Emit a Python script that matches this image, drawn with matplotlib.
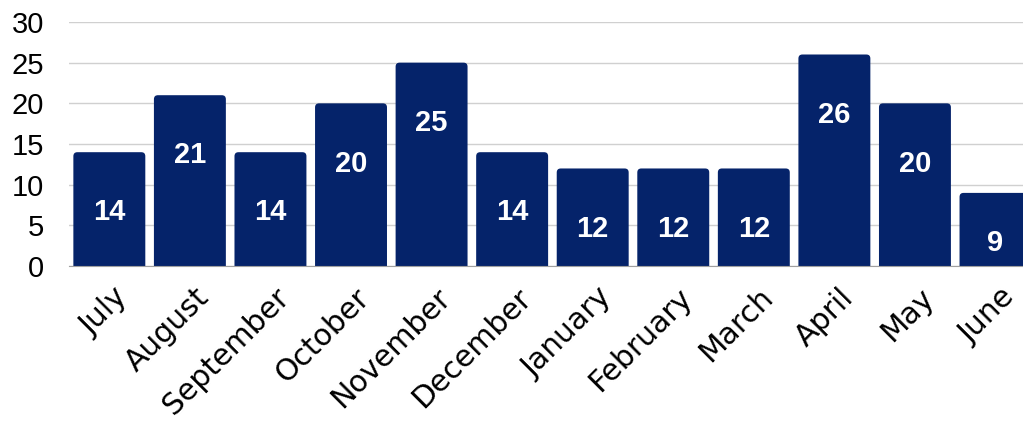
import numpy as np
import matplotlib
matplotlib.use("Agg")
import matplotlib.pyplot as plt
import matplotlib.transforms as mtransforms
from matplotlib.patches import FancyBboxPatch

# ========= DATA =========
MONTHS = ["July", "August", "September", "October", "November", "December",
          "January", "February", "March", "April", "May", "June"]
COUNTS = [14, 21, 14, 20, 25, 14, 12, 12, 12, 26, 20, 9]
Y_TICKS = [0, 5, 10, 15, 20, 25, 30]

BAR_COLOR = "#05236a"
GRID_COLOR = "#d0d0d0"
NUM_FONT = "Liberation Sans"
TXT_FONT = "DejaVu Sans"
# ========================

AX_L, AX_B, AX_W, AX_H = 0.0675, 0.381, 0.945, 0.568

fig = plt.figure(figsize=(10.23, 4.30), dpi=100)
ax = fig.add_axes([AX_L, AX_B, AX_W, AX_H])

x = np.arange(len(MONTHS))
bars = ax.bar(x, COUNTS, width=0.893, color=BAR_COLOR, zorder=3)

ax.set_xlim(-0.5, len(MONTHS) - 0.5)
ax.set_ylim(0, 30)

# rounded tops: swap each bar for a rounded patch
px_x = (ax.get_xlim()[1] - ax.get_xlim()[0]) / (fig.get_figwidth() * fig.dpi * AX_W)
px_y = 30 / (fig.get_figheight() * fig.dpi * AX_H)
for b in bars:
    b.set_visible(False)
    p = FancyBboxPatch((b.get_x(), -1), b.get_width(), b.get_height() + 1,
                       boxstyle=f"round,pad=0,rounding_size={4 * px_x}",
                       mutation_aspect=px_y / px_x,
                       fc=BAR_COLOR, ec="none", zorder=3, clip_on=True)
    ax.add_patch(p)

# value labels inside bars
for xi, v in zip(x, COUNTS):
    ax.text(xi, max(v - 7.4, 2.9), str(v), ha="center", va="center",
            color="white", fontsize=21, fontweight="bold", family=NUM_FONT, zorder=4)

ax.set_yticks(Y_TICKS)
ax.set_yticklabels([str(t) for t in Y_TICKS], fontsize=21, family=NUM_FONT)
ax.set_xticks(x)
ax.set_xticklabels(MONTHS, rotation=45, ha="right", rotation_mode="anchor",
                   fontsize=21.5, family=TXT_FONT)
ax.tick_params(axis="both", length=0)
ax.tick_params(axis="y", pad=18)
ax.tick_params(axis="x", pad=12)

# shift month labels a little to the right of the bar centres
shift = mtransforms.ScaledTranslation(4 / 100, 0, fig.dpi_scale_trans)
for lab in ax.get_xticklabels():
    lab.set_transform(lab.get_transform() + shift)

ax.yaxis.grid(True, color=GRID_COLOR, linewidth=1, zorder=0)
ax.set_axisbelow(True)
for s in ["top", "right", "left"]:
    ax.spines[s].set_visible(False)
ax.spines["bottom"].set_color("#a0a0a0")
ax.spines["bottom"].set_zorder(5)

fig.savefig("out.png", dpi=100)
